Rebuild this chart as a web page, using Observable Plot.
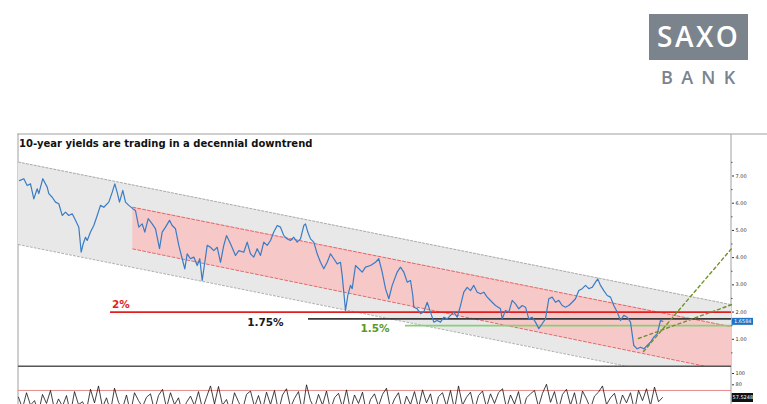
<!DOCTYPE html>
<html>
<head>
<meta charset="utf-8">
<script src="https://cdn.jsdelivr.net/npm/d3@7"></script>
<script src="https://cdn.jsdelivr.net/npm/@observablehq/plot@0.6"></script>
<style>
  html, body { margin: 0; padding: 0; background: #fff; width: 767px; height: 404px; overflow: hidden; }
  #deco { position: absolute; left: 0; top: 0; }
  #mainWrap { position: absolute; left: 0; top: 0; width: 767px; height: 367px; overflow: hidden; }
  #oscWrap { position: absolute; left: 0; top: 366px; width: 767px; height: 38px; overflow: hidden; }
  #mainWrap svg, #oscWrap svg { display: block; }
</style>
</head>
<body>
<svg id="deco" width="767" height="404" xmlns="http://www.w3.org/2000/svg">
  <rect x="649" y="14" width="99" height="46" fill="#7b838d"/>
  <text x="657" y="46.5" fill="#fff" font-family="Open Sans, sans-serif" font-weight="600" font-size="28" letter-spacing="2.5">SAXO</text>
  <text x="661" y="84" fill="#7b838d" font-family="Open Sans, sans-serif" font-weight="600" font-size="18" letter-spacing="8.3">BANK</text>
  <line x1="17" y1="134" x2="767" y2="134" stroke="#a0a0a0" stroke-width="1"/>
  <line x1="18" y1="134" x2="18" y2="404" stroke="#a0a0a0" stroke-width="1"/>
  <line x1="731" y1="134" x2="731" y2="404" stroke="#a0a0a0" stroke-width="1"/>
  <text x="19" y="146.5" fill="#111" font-family="DejaVu Sans, sans-serif" font-weight="bold" font-size="10">10-year yields are trading in a decennial downtrend</text>
</svg>
<div id="mainWrap"></div>
<div id="oscWrap"></div>
<script>
// ---- price series (time step, yield %) ----
const yieldT = [1,5.3,8.7,12,15.3,18.7,20.3,24.3,28.7,30.3,33.7,37,40.3,43.7,47,50.3,53.7,57,60.3,62.7,64.7,67,68.7,72,75.3,78.7,82,85.3,90.3,93.7,96.3,98.7,101,104.3,107,110.3,114.3,117,120.3,123.7,126.3,129.7,133.7,137,141,143.7,147,151,153.7,157,160.3,163.7,166.3,168.7,172,175.3,178.7,181.3,183.7,186.3,188.7,192,195.3,198.7,202,205.3,208,212,217,220.3,225.3,228.7,232,235.3,238.7,242,245.3,248.7,252,255.3,258.7,262,265.3,268.7,272,275.3,278.7,282,285.3,287,289.3,292,295.3,298.7,302,305.3,308.7,312,315.3,318.7,322,323.7,325.3,327,329.3,332,333.7,337,340.3,343.7,347,352,357,360.3,363.7,367,370.3,373.7,378.7,382,385.3,388.7,392,394.3,395.3,398.7,402,405.3,408.7,412,415.3,418.7,422,425.3,428.7,432,435.3,438.7,442,445.3,448.7,452,455.3,458.7,462,465.3,468.7,470.3,473.7,477,482,483.7,487,490.3,493.7,497,500.3,503.7,507,510.3,513.7,517,520.3,523.7,527,530.3,533.7,537,540.3,543.7,547,550.3,553.7,557,560.3,563.7,567,570.3,573.7,577,579.3,582,585.3,588.7,592,595.3,598.7,602,605.3,608.7,612,615.3,618.7,622,625.3,628.7,632,635.3,638.7,642,644.3];
const yieldV = [6.83,6.90,6.65,6.71,6.16,6.53,6.35,6.90,6.59,6.35,6.22,6.04,5.98,5.55,5.67,5.55,5.61,5.37,5.12,4.20,4.51,4.75,4.63,4.94,5.18,5.55,5.92,5.85,6.04,6.40,6.71,6.40,6.04,6.47,6.04,5.92,5.80,5.73,5.12,5.24,4.94,5.43,5.24,5.06,4.33,4.94,5.12,5.37,5.18,5.06,4.45,3.96,3.59,4.14,3.96,4.02,3.71,3.96,3.16,3.83,4.45,4.38,4.26,4.38,3.83,4.45,4.81,4.51,4.08,4.26,4.20,4.57,4.14,4.02,4.33,4.08,4.57,4.45,4.63,4.94,5.18,5.12,4.81,4.69,4.63,4.75,4.57,4.69,5.18,5.24,4.94,4.69,4.57,4.14,3.83,3.59,3.83,4.14,3.96,3.77,3.83,3.34,2.73,2.06,2.61,2.98,2.86,3.71,3.59,3.47,3.65,3.71,3.83,3.96,3.47,2.86,2.49,2.98,3.47,3.65,3.47,3.10,3.16,2.61,2.18,2.12,1.94,2.00,2.36,2.00,1.63,1.69,1.63,1.81,1.75,1.88,2.00,1.81,2.24,2.73,2.91,2.79,2.98,2.73,2.67,2.73,2.55,2.49,2.36,2.24,2.12,1.75,2.06,2.00,2.43,2.30,2.12,2.24,2.18,1.75,1.81,1.63,1.39,1.57,1.75,2.49,2.55,2.36,2.43,2.24,2.18,2.24,2.36,2.49,2.79,2.86,2.98,2.86,2.91,3.10,3.22,2.98,2.79,2.61,2.55,2.24,2.00,1.69,1.88,1.81,1.63,0.77,0.65,0.71,0.65,0.77,0.89,1.08,1.20,1.69,1.6584];
const lastYield = 1.6584;

// ---- channels (time step, lower, upper) ----
const outerT = [0, 713];
const outerLo = [4.48, -0.76];
const outerHi = [7.51, 2.27];
const innerT = [114.3, 713];
const innerLo = [4.32, -0.19];
const innerHi = [5.85, 1.46];

// ---- horizontal levels ----
const levelV = [2, 1.75, 1.5];
const levelStartT = [92, 290, 387];
const levelLabels = ["2%", "1.75%", "1.5%"];
const levelLabelT = [93.5, 228.7, 342];

// ---- projection dashed lines ----
const projT = [[620, 713], [625, 713]];
const projV = [[1.03, 2.27], [0.55, 4.33]];

// ---- axis ticks ----
const yTicks = [1, 2, 3, 4, 5, 6, 7];
const yMinor = [0.5, 1.5, 2.5, 3.5, 4.5, 5.5, 6.5, 7.5];

// ---- oscillator (RSI-like) values ----
const oscV = [58,38,66,44,52,31,63,47,70,36,
  55,42,61,29,68,45,50,35,72,48,
  78,40,57,33,74,49,38,62,30,66,
  52,41,58,64,34,61,72,39,66,45,
  57,30,49,60,43,68,37,58,78,46,
  77,44,54,32,66,50,35,63,69,41,
  61,36,67,45,70,33,62,73,40,56,
  68,31,80,52,38,63,44,69,35,57,
  65,40,71,34,62,47,67,30,54,64,
  42,63,74,37,55,66,33,60,45,68,
  39,71,48,64,30,59,66,42,70,36,
  78,44,58,67,35,61,69,40,64,47,
  66,73,38,62,46,68,32,57,64,70,
  41,65,81,49,68,36,63,72,44,66,
  33,69,55,38,60,67,78,45,57,65,
  37,62,48,66,34,70,52,73,43,76,
  50,57.5248];
const oscLast = 57.5248;
const oscLevel = 70;
const oscTicks = [100, 80];

// ---- build tables ----
const prices = yieldT.map((t, i) => ({t, v: yieldV[i]}));
const outer = outerT.map((t, i) => ({t, lo: outerLo[i], hi: outerHi[i]}));
const inner = innerT.map((t, i) => ({t, lo: innerLo[i], hi: innerHi[i]}));
const levels = levelV.map((v, i) => ({v, t0: levelStartT[i], label: levelLabels[i], lt: levelLabelT[i]}));
const proj = projT.flatMap((ts, k) => ts.map((t, j) => ({k, t, v: projV[k][j]})));
const osc = oscV.map((v, i) => ({t: i * 4, v}));
const xEnd = outerT[1];

const levelColors = ["#e21f1f", "#3a3a3a", "#86cf78"];
const labelColors = ["#e21f1f", "#1a1a1a", "#5a9a1c"];
const labelDy = [-7, 4, 3];

const labelMarks = levels.map((d, i) => Plot.text([d], {
  x: "lt", y: "v", text: "label", textAnchor: "start", lineAnchor: "middle",
  dy: labelDy[i], fill: labelColors[i], fontSize: 10.5, fontWeight: "bold",
  fontFamily: "DejaVu Sans, sans-serif"
}));

const main = Plot.plot({
  width: 767, height: 367,
  marginLeft: 18, marginRight: 36, marginTop: 151, marginBottom: 1,
  x: {domain: [0, 713], axis: null},
  y: {domain: [0, 7.9], axis: "right", label: null, ticks: yTicks, tickFormat: d => d.toFixed(2), tickSize: 2, tickPadding: 2},
  style: {fontSize: "5px", fontFamily: "DejaVu Sans, sans-serif", color: "#333", background: "transparent"},
  marks: [
    Plot.areaY(outer, {x: "t", y1: "lo", y2: "hi", fill: "#e8e8e8", clip: true}),
    Plot.areaY(inner, {x: "t", y1: "lo", y2: "hi", fill: "#f6c8c8", clip: true}),
    Plot.line(outer, {x: "t", y: "hi", stroke: "#999", strokeWidth: 0.8, strokeDasharray: "2,2", clip: true}),
    Plot.line(outer, {x: "t", y: "lo", stroke: "#999", strokeWidth: 0.8, strokeDasharray: "2,2", clip: true}),
    Plot.line(inner, {x: "t", y: "hi", stroke: "#e24a4a", strokeWidth: 0.8, strokeDasharray: "3,2", clip: true}),
    Plot.line(inner, {x: "t", y: "lo", stroke: "#e24a4a", strokeWidth: 0.8, strokeDasharray: "3,2", clip: true}),
    Plot.ruleY(levels, {y: "v", x1: "t0", x2: xEnd, stroke: (d, i) => levelColors[i], strokeWidth: 1.8}),
    Plot.line(prices, {x: "t", y: "v", stroke: "#3a7cc4", strokeWidth: 1.2}),
    Plot.line(proj, {x: "t", y: "v", z: "k", stroke: "#6f9128", strokeWidth: 1.4, strokeDasharray: "3,3"}),
    ...labelMarks,
    Plot.ruleY(yMinor, {x1: xEnd, x2: xEnd + 1.5, stroke: "#555"}),
    Plot.ruleY([0], {stroke: "#555", strokeWidth: 2}),
    Plot.ruleY([lastYield], {x1: xEnd + 0.7, x2: xEnd + 22, stroke: "#1f72c2", strokeWidth: 7}),
    Plot.text([lastYield], {x: xEnd + 11.3, y: d => d, text: d => d.toFixed(4), fill: "#fff", fontSize: 5, textAnchor: "middle"})
  ]
});
document.getElementById("mainWrap").appendChild(main);

const oscPlot = Plot.plot({
  width: 767, height: 70,
  marginLeft: 18, marginRight: 36, marginTop: 7, marginBottom: 6.5,
  x: {domain: [0, 713], axis: null},
  y: {domain: [0, 100], axis: "right", label: null, ticks: oscTicks, tickSize: 2, tickPadding: 2},
  style: {fontSize: "5px", fontFamily: "DejaVu Sans, sans-serif", color: "#333", background: "transparent"},
  marks: [
    Plot.ruleY([oscLevel], {x1: 0, x2: xEnd, stroke: "#e07070", strokeWidth: 0.8}),
    Plot.line(osc, {x: "t", y: "v", stroke: "#111", strokeWidth: 0.8}),
    Plot.ruleY([oscLast], {x1: xEnd + 0.7, x2: xEnd + 22, stroke: "#111", strokeWidth: 9}),
    Plot.text([oscLast], {x: xEnd + 11.3, y: d => d, text: d => d.toFixed(4), fill: "#fff", fontSize: 5, textAnchor: "middle"})
  ]
});
document.getElementById("oscWrap").appendChild(oscPlot);
</script>
</body>
</html>
